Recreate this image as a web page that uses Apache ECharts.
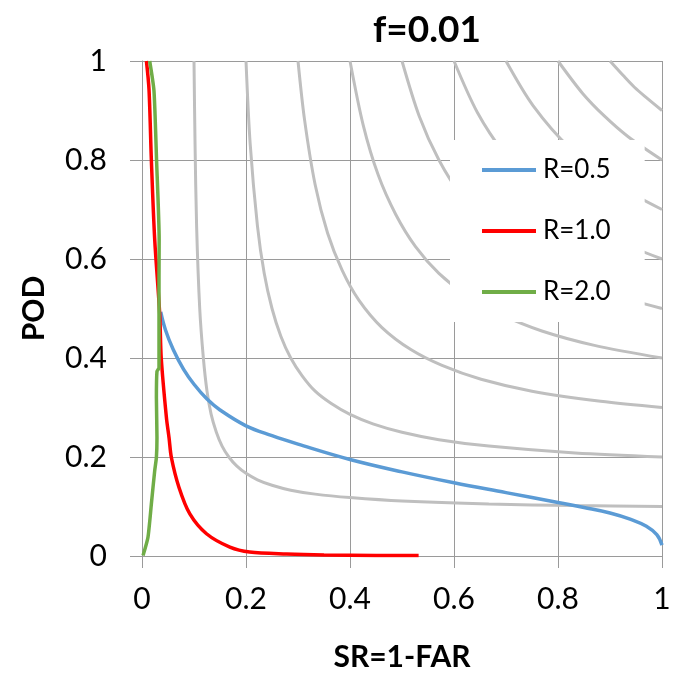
<!DOCTYPE html>
<html>
<head>
<meta charset="utf-8">
<script src="https://cdn.jsdelivr.net/npm/echarts@6/dist/echarts.min.js"></script>
<style>html,body{margin:0;padding:0;background:#fff}#c{width:683px;height:677px}</style>
</head>
<body>
<div id="c"></div>
<script>
// Tick values
var xTicks = [0, 0.2, 0.4, 0.6, 0.8, 1];
var yTicks = [0, 0.2, 0.4, 0.6, 0.8, 1];

// Gray background isolines (SR, POD)
var gray01 = [[0.1,1],[0.102,0.833],[0.105,0.667],[0.111,0.5],[0.118,0.4],[0.125,0.333],[0.133,0.286],[0.143,0.25],[0.154,0.222],[0.167,0.2],[0.182,0.182],[0.2,0.167],[0.222,0.154],[0.25,0.143],[0.286,0.133],[0.333,0.125],[0.4,0.118],[0.5,0.111],[0.667,0.105],[0.833,0.102],[1,0.1]];
var gray02 = [[0.2,1],[0.208,0.833],[0.222,0.667],[0.235,0.571],[0.25,0.5],[0.267,0.444],[0.286,0.4],[0.308,0.364],[0.333,0.333],[0.364,0.308],[0.4,0.286],[0.444,0.267],[0.5,0.25],[0.571,0.235],[0.667,0.222],[0.833,0.208],[1,0.2]];
var gray03 = [[0.3,1],[0.3125,0.882],[0.333,0.75],[0.357,0.652],[0.385,0.577],[0.417,0.517],[0.4615,0.4615],[0.517,0.417],[0.577,0.385],[0.652,0.357],[0.75,0.333],[0.882,0.3125],[1,0.3]];
var gray04 = [[0.4,1],[0.4255,0.87],[0.4545,0.769],[0.488,0.69],[0.526,0.625],[0.571,0.571],[0.625,0.526],[0.69,0.488],[0.769,0.4545],[0.87,0.4255],[1,0.4]];
var gray05 = [[0.5,1],[0.533,0.889],[0.571,0.8],[0.615,0.727],[0.667,0.667],[0.727,0.615],[0.8,0.571],[0.889,0.533],[1,0.5]];
var gray06 = [[0.6,1],[0.645,0.896],[0.698,0.811],[0.75,0.75],[0.811,0.698],[0.896,0.645],[1,0.6]];
var gray07 = [[0.7,1],[0.752,0.91],[0.8235,0.8235],[0.91,0.752],[1,0.7]];
var gray08 = [[0.8,1],[0.847,0.935],[0.889,0.889],[0.935,0.847],[1,0.8]];
var gray09 = [[0.9,1],[0.926,0.97],[0.947,0.947],[0.97,0.926],[1,0.9]];

// Series (SR, POD)
var r05 = [[0.036,0.493],[0.045,0.457],[0.06,0.417],[0.08,0.377],[0.1,0.347],[0.125,0.317],[0.15,0.295],[0.2,0.263],[0.25,0.243],[0.3,0.226],[0.4,0.195],[0.5,0.17],[0.6,0.148],[0.7,0.128],[0.8,0.108],[0.85,0.098],[0.9,0.087],[0.94,0.074],[0.97,0.06],[0.99,0.043],[1.0,0.022]];
var r10 = [[0.0085,1.0],[0.0135,0.942],[0.018,0.8],[0.0244,0.64],[0.034,0.49],[0.037,0.4],[0.047,0.279],[0.052,0.239],[0.0565,0.199],[0.071,0.139],[0.092,0.085],[0.124,0.045],[0.169,0.018],[0.207,0.008],[0.278,0.004],[0.35,0.002],[0.45,0.001],[0.532,0.001]];
var r20 = [[0.002,0.001],[0.0115,0.038],[0.018,0.105],[0.0244,0.172],[0.0277,0.199],[0.0288,0.239],[0.0277,0.319],[0.0288,0.373],[0.0327,0.38],[0.0327,0.562],[0.033,0.64],[0.028,0.8],[0.023,0.94],[0.0148,1.0]];

var grayCurves = [gray01, gray02, gray03, gray04, gray05, gray06, gray07, gray08, gray09];
var series = grayCurves.map(function (d, i) {
  return {
    name: 'g' + i, type: 'line', data: d, showSymbol: false, symbol: 'none',
    smooth: 0.3, lineStyle: { color: '#bfbfbf', width: 3 }, z: 1, silent: true
  };
});
series.push({ name: 'R=0.5', type: 'line', data: r05, symbol: 'none', smooth: 0.4, lineStyle: { color: '#5b9bd5', width: 3.5 }, itemStyle: { color: '#5b9bd5' }, z: 3 });
series.push({ name: 'R=1.0', type: 'line', data: r10, symbol: 'none', smooth: 0.3, lineStyle: { color: '#ff0000', width: 3.5 }, itemStyle: { color: '#ff0000' }, z: 3 });
series.push({ name: 'R=2.0', type: 'line', data: r20, symbol: 'none', smooth: 0.2, lineStyle: { color: '#70ad47', width: 3.5 }, itemStyle: { color: '#70ad47' }, z: 3 });

var chart = echarts.init(document.getElementById('c'));
var axisGray = '#9a9a9a';
chart.setOption({
  animation: false,
  title: {
    text: 'f=0.01', left: 422, top: 7, textAlign: 'center',
    textStyle: { fontFamily: 'Lato', fontWeight: 'bold', fontSize: 37, color: '#000' }
  },
  grid: { left: 142, right: 21, top: 61, bottom: 118, containLabel: false },
  legend: {
    data: ['R=0.5', 'R=1.0', 'R=2.0'], orient: 'vertical', left: 450, top: 140,
    padding: [15, 34, 15, 32], itemGap: 31, itemWidth: 54, itemHeight: 4, icon: 'rect',
    backgroundColor: '#ffffff', z: 10,
    textStyle: { fontFamily: 'Lato', fontSize: 26, color: '#000', lineHeight: 30, padding: [0, 0, 0, 2] }
  },
  xAxis: {
    type: 'value', min: 0, max: 1, interval: 0.2,
    name: 'SR=1-FAR', nameLocation: 'middle', nameGap: 86,
    nameTextStyle: { fontFamily: 'Lato', fontWeight: 'bold', fontSize: 30, color: '#000' },
    axisLine: { show: true, lineStyle: { color: axisGray, width: 1 } },
    axisTick: { show: true, length: 12, lineStyle: { color: axisGray } },
    axisLabel: { margin: 28, fontFamily: 'Lato', fontSize: 30, color: '#000' },
    splitLine: { show: true, lineStyle: { color: axisGray, width: 1 } }
  },
  yAxis: {
    type: 'value', min: 0, max: 1, interval: 0.2,
    name: 'POD', nameLocation: 'middle', nameGap: 93, nameRotate: 90,
    nameTextStyle: { fontFamily: 'Lato', fontWeight: 'bold', fontSize: 30, color: '#000' },
    axisLine: { show: true, lineStyle: { color: axisGray, width: 1 } },
    axisTick: { show: true, length: 12, lineStyle: { color: axisGray } },
    axisLabel: { margin: 35, fontFamily: 'Lato', fontSize: 30, color: '#000' },
    splitLine: { show: true, lineStyle: { color: axisGray, width: 1 } }
  },
  series: series
});
</script>
</body>
</html>
